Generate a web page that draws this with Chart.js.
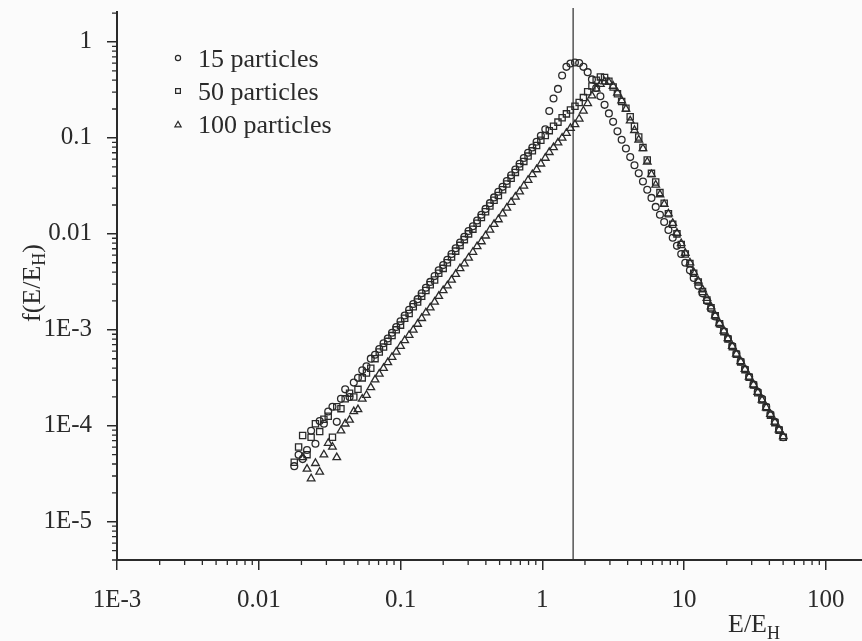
<!DOCTYPE html>
<html>
<head>
<meta charset="utf-8">
<script src="https://cdn.jsdelivr.net/npm/chart.js@4/dist/chart.umd.min.js"></script>
<style>
  html, body { margin: 0; padding: 0; background: #fbfbfb; }
  #wrap { width: 862px; height: 641px; }
</style>
</head>
<body>
<div id="wrap"><canvas id="chart" width="862" height="641"></canvas></div>
<script>
// E/E_H bins (shared by all three runs)
const energy = [
  0.0178, 0.0191, 0.0204, 0.0219, 0.0234, 0.0251, 0.0269, 0.0288, 0.0309, 0.0331,
  0.0355, 0.0380, 0.0407, 0.0437, 0.0468, 0.0501, 0.0537, 0.0575, 0.0617, 0.0661,
  0.0708, 0.0759, 0.0813, 0.0871, 0.0933, 0.100, 0.107, 0.115, 0.123, 0.132,
  0.141, 0.151, 0.162, 0.174, 0.186, 0.200, 0.214, 0.229, 0.245, 0.263,
  0.282, 0.302, 0.324, 0.347, 0.372, 0.398, 0.427, 0.457, 0.490, 0.525,
  0.562, 0.603, 0.646, 0.692, 0.741, 0.794, 0.851, 0.912, 0.977, 1.05,
  1.12, 1.20, 1.29, 1.38, 1.48, 1.58, 1.70, 1.82, 1.95, 2.09,
  2.24, 2.40, 2.57, 2.75, 2.95, 3.16, 3.39, 3.63, 3.89, 4.17,
  4.47, 4.79, 5.13, 5.50, 5.89, 6.31, 6.76, 7.24, 7.76, 8.32,
  8.91, 9.55, 10.2, 11.0, 11.7, 12.6, 13.5, 14.5, 15.5, 16.6,
  17.8, 19.1, 20.4, 21.9, 23.4, 25.1, 26.9, 28.8, 30.9, 33.1,
  35.5, 38.0, 40.7, 43.7, 46.8, 50.1
];

// f(E/E_H), 15 particles
const f15 = [
  3.8e-5, 5.0e-5, 4.5e-5, 5.6e-5, 8.9e-5, 6.5e-5, 1.12e-4, 1.05e-4, 1.41e-4, 1.58e-4,
  1.10e-4, 1.91e-4, 2.40e-4, 2.00e-4, 2.82e-4, 3.16e-4, 3.80e-4, 4.17e-4, 5.01e-4, 5.50e-4,
  6.31e-4, 7.24e-4, 8.13e-4, 9.33e-4, 1.07e-3, 1.23e-3, 1.41e-3, 1.62e-3, 1.86e-3, 2.09e-3,
  2.40e-3, 2.75e-3, 3.16e-3, 3.63e-3, 4.17e-3, 4.73e-3, 5.37e-3, 6.17e-3, 7.08e-3, 8.13e-3,
  9.33e-3, 1.07e-2, 1.20e-2, 1.38e-2, 1.58e-2, 1.82e-2, 2.09e-2, 2.40e-2, 2.75e-2, 3.09e-2,
  3.55e-2, 4.07e-2, 4.68e-2, 5.37e-2, 6.17e-2, 7.00e-2, 7.94e-2, 9.12e-2, 0.105, 0.123,
  0.191, 0.257, 0.324, 0.447, 0.550, 0.596, 0.610, 0.603, 0.550, 0.484,
  0.407, 0.331, 0.272, 0.221, 0.180, 0.147, 0.117, 9.55e-2, 7.76e-2, 6.31e-2,
  5.19e-2, 4.27e-2, 3.51e-2, 2.88e-2, 2.37e-2, 1.91e-2, 1.58e-2, 1.33e-2, 1.10e-2, 9.12e-3,
  7.50e-3, 6.17e-3, 5.01e-3, 4.17e-3, 3.47e-3, 2.88e-3, 2.40e-3, 2.00e-3, 1.66e-3, 1.38e-3,
  1.15e-3, 9.66e-4, 8.13e-4, 6.76e-4, 5.62e-4, 4.68e-4, 3.89e-4, 3.24e-4, 2.69e-4, 2.26e-4,
  1.91e-4, 1.58e-4, 1.32e-4, 1.10e-4, 9.12e-5, 7.59e-5
];

// 50 particles
const f50 = [
  4.17e-5, 6.03e-5, 7.94e-5, 5.01e-5, 7.59e-5, 1.05e-4, 8.71e-5, 1.17e-4, 1.26e-4, 7.59e-5,
  1.58e-4, 1.51e-4, 1.91e-4, 2.19e-4, 2.00e-4, 2.40e-4, 3.16e-4, 3.55e-4, 3.98e-4, 5.01e-4,
  5.89e-4, 6.61e-4, 7.59e-4, 8.71e-4, 1.00e-3, 1.12e-3, 1.32e-3, 1.48e-3, 1.74e-3, 1.95e-3,
  2.24e-3, 2.57e-3, 2.95e-3, 3.31e-3, 3.89e-3, 4.37e-3, 5.01e-3, 5.75e-3, 6.61e-3, 7.59e-3,
  8.71e-3, 1.00e-2, 1.12e-2, 1.29e-2, 1.48e-2, 1.70e-2, 1.95e-2, 2.24e-2, 2.51e-2, 2.88e-2,
  3.31e-2, 3.80e-2, 4.37e-2, 5.01e-2, 5.69e-2, 6.46e-2, 7.33e-2, 8.32e-2, 9.44e-2, 0.106,
  0.119, 0.132, 0.146, 0.162, 0.178, 0.195, 0.214, 0.234, 0.263, 0.302,
  0.347, 0.398, 0.432, 0.427, 0.389, 0.339, 0.288, 0.240, 0.204, 0.166,
  0.132, 0.102, 7.94e-2, 5.89e-2, 4.27e-2, 3.47e-2, 2.69e-2, 2.09e-2, 1.62e-2, 1.26e-2,
  1.00e-2, 7.76e-3, 6.17e-3, 4.90e-3, 3.89e-3, 3.16e-3, 2.51e-3, 2.04e-3, 1.70e-3, 1.40e-3,
  1.16e-3, 9.55e-4, 8.04e-4, 6.68e-4, 5.56e-4, 4.62e-4, 3.85e-4, 3.20e-4, 2.66e-4, 2.21e-4,
  1.86e-4, 1.55e-4, 1.29e-4, 1.08e-4, 9.02e-5, 7.59e-5
];

// 100 particles
const f100 = [
  null, null, 4.68e-5, 3.55e-5, 2.82e-5, 4.07e-5, 3.31e-5, 5.01e-5, 6.61e-5, 6.03e-5,
  4.68e-5, 8.91e-5, 1.05e-4, 1.15e-4, 1.41e-4, 1.48e-4, 1.91e-4, 2.09e-4, 2.51e-4, 3.02e-4,
  3.47e-4, 3.98e-4, 4.57e-4, 5.19e-4, 5.89e-4, 6.76e-4, 7.76e-4, 8.81e-4, 1.00e-3, 1.15e-3,
  1.32e-3, 1.51e-3, 1.70e-3, 1.95e-3, 2.24e-3, 2.57e-3, 2.88e-3, 3.31e-3, 3.80e-3, 4.37e-3,
  4.90e-3, 5.62e-3, 6.46e-3, 7.41e-3, 8.32e-3, 9.55e-3, 1.10e-2, 1.26e-2, 1.41e-2, 1.62e-2,
  1.86e-2, 2.14e-2, 2.43e-2, 2.75e-2, 3.16e-2, 3.63e-2, 4.17e-2, 4.68e-2, 5.37e-2, 6.17e-2,
  7.08e-2, 7.94e-2, 8.91e-2, 0.100, 0.112, 0.126, 0.138, 0.158, 0.191, 0.229,
  0.275, 0.324, 0.363, 0.385, 0.380, 0.347, 0.295, 0.245, 0.200, 0.151,
  0.120, 9.55e-2, 7.76e-2, 5.62e-2, 4.17e-2, 3.24e-2, 2.57e-2, 2.04e-2, 1.62e-2, 1.29e-2,
  1.02e-2, 7.94e-3, 6.31e-3, 5.01e-3, 3.98e-3, 3.24e-3, 2.63e-3, 2.14e-3, 1.74e-3, 1.41e-3,
  1.17e-3, 9.77e-4, 8.13e-4, 6.76e-4, 5.62e-4, 4.68e-4, 3.89e-4, 3.24e-4, 2.69e-4, 2.24e-4,
  1.86e-4, 1.55e-4, 1.32e-4, 1.10e-4, 9.12e-5, 7.76e-5
];

const seriesNames = ['15 particles', '50 particles', '100 particles'];
const seriesMarkers = ['circle', 'rect', 'triangle'];

const xTickValues = [1e-3, 0.01, 0.1, 1, 10, 100];
const xTickLabels = ['1E-3', '0.01', '0.1', '1', '10', '100'];
const yTickValues = [1e-5, 1e-4, 1e-3, 0.01, 0.1, 1];
const yTickLabels = ['1E-5', '1E-4', '1E-3', '0.01', '0.1', '1'];

const markerEnergy = 1.65; // vertical reference line

const ink = '#2a2a2a';
const serif = "'Liberation Serif', 'DejaVu Serif', serif";

function toPoints(values) {
  return energy
    .map((x, i) => ({ x, y: values[i] }))
    .filter(p => p.y !== null);
}

const markerSize = { circle: 3.4, rect: 4.4, triangle: 4.4 };

const datasets = [f15, f50, f100].map((values, i) => ({
  label: seriesNames[i],
  data: toPoints(values),
  pointStyle: seriesMarkers[i],
  pointRadius: markerSize[seriesMarkers[i]],
  pointBorderWidth: 1.3,
  borderColor: ink,
  backgroundColor: 'rgba(0,0,0,0)',
  showLine: false,
}));

function drawSubscripted(ctx, parts, x, y) {
  let cx = x;
  parts.forEach(p => {
    ctx.font = p.size + 'px ' + serif;
    ctx.fillText(p.text, cx, y + (p.dy || 0));
    cx += ctx.measureText(p.text).width;
  });
}

function partsWidth(ctx, parts) {
  return parts.reduce((w, p) => {
    ctx.font = p.size + 'px ' + serif;
    return w + ctx.measureText(p.text).width;
  }, 0);
}

const refLine = {
  id: 'refLine',
  beforeDatasetsDraw(chart) {
    const { ctx, chartArea, scales } = chart;
    const px = scales.x.getPixelForValue(markerEnergy);
    ctx.save();
    ctx.strokeStyle = ink;
    ctx.lineWidth = 1.2;
    ctx.beginPath();
    ctx.moveTo(px, chartArea.top - 4);
    ctx.lineTo(px, chartArea.bottom);
    ctx.stroke();
    ctx.restore();
  }
};

const minorTicks = {
  id: 'minorTicks',
  afterDraw(chart) {
    const { ctx, chartArea, scales } = chart;
    ctx.save();
    ctx.strokeStyle = ink;
    ctx.lineWidth = 1.3;
    ctx.beginPath();
    [scales.x, scales.y].forEach(s => {
      const lo = Math.floor(Math.log10(s.min));
      const hi = Math.ceil(Math.log10(s.max));
      for (let e = lo; e < hi; e++) {
        for (let m = 2; m <= 9; m++) {
          const v = m * Math.pow(10, e);
          if (v < s.min || v > s.max) continue;
          const p = s.getPixelForValue(v);
          if (s.isHorizontal()) {
            ctx.moveTo(p, chartArea.bottom);
            ctx.lineTo(p, chartArea.bottom + 5);
          } else {
            ctx.moveTo(chartArea.left - 5, p);
            ctx.lineTo(chartArea.left, p);
          }
        }
      }
    });
    ctx.stroke();
    ctx.restore();
  }
};

const labels = {
  id: 'labels',
  afterDraw(chart) {
    const { ctx } = chart;
    ctx.save();
    ctx.fillStyle = ink;
    ctx.strokeStyle = ink;
    ctx.textBaseline = 'alphabetic';
    ctx.textAlign = 'left';

    // legend inside the plot
    const rows = [67, 100, 133];
    const marks = [58, 91, 125];
    const legendSize = { circle: 2.6, rect: 3.4, triangle: 3.6 };
    seriesNames.forEach((name, i) => {
      ctx.lineWidth = 1.2;
      ctx.fillStyle = 'rgba(0,0,0,0)';
      Chart.helpers.drawPoint(ctx, {
        pointStyle: seriesMarkers[i],
        radius: legendSize[seriesMarkers[i]],
        borderWidth: 1.2,
        rotation: 0
      }, 178, marks[i]);
      ctx.fillStyle = ink;
      ctx.font = '26px ' + serif;
      ctx.fillText(name, 198, rows[i]);
    });

    // y axis title, rotated
    const yParts = [
      { text: 'f(E/E', size: 26 },
      { text: 'H', size: 18, dy: 5 },
      { text: ')', size: 26 }
    ];
    const wy = partsWidth(ctx, yParts);
    ctx.save();
    ctx.translate(40, 283);
    ctx.rotate(-Math.PI / 2);
    drawSubscripted(ctx, yParts, -wy / 2, 0);
    ctx.restore();

    // x axis title
    drawSubscripted(ctx, [
      { text: 'E/E', size: 26 },
      { text: 'H', size: 18, dy: 7 }
    ], 728, 632);
    ctx.restore();
  }
};

new Chart(document.getElementById('chart'), {
  type: 'scatter',
  data: { datasets },
  options: {
    responsive: false,
    animation: false,
    devicePixelRatio: 1,
    layout: { autoPadding: false, padding: { top: 12, left: 0, right: 0, bottom: 0 } },
    plugins: {
      legend: { display: false },
      tooltip: { enabled: false }
    },
    scales: {
      x: {
        type: 'logarithmic',
        min: 1e-3,
        max: 180,
        afterFit: s => { s.height = 81; s.paddingLeft = 0; s.paddingRight = 0; },
        afterBuildTicks: s => { s.ticks = xTickValues.map(v => ({ value: v })); },
        border: { display: true, color: ink, width: 2 },
        grid: { display: true, drawOnChartArea: false, drawTicks: true, tickLength: 10, color: ink, lineWidth: 1.5 },
        ticks: {
          autoSkip: false,
          maxRotation: 0,
          padding: 15,
          color: ink,
          font: { family: serif, size: 25 },
          callback: v => xTickLabels[xTickValues.indexOf(v)]
        }
      },
      y: {
        type: 'logarithmic',
        min: 4e-6,
        max: 2.05,
        afterFit: s => { s.width = 117; s.paddingTop = 0; s.paddingBottom = 0; },
        afterBuildTicks: s => { s.ticks = yTickValues.map(v => ({ value: v })); },
        border: { display: true, color: ink, width: 2 },
        grid: { display: true, drawOnChartArea: false, drawTicks: true, tickLength: 10, color: ink, lineWidth: 1.5 },
        ticks: {
          autoSkip: false,
          padding: 15,
          color: ink,
          font: { family: serif, size: 25 },
          callback: v => yTickLabels[yTickValues.indexOf(v)]
        }
      }
    }
  },
  plugins: [refLine, minorTicks, labels]
});
</script>
</body>
</html>
